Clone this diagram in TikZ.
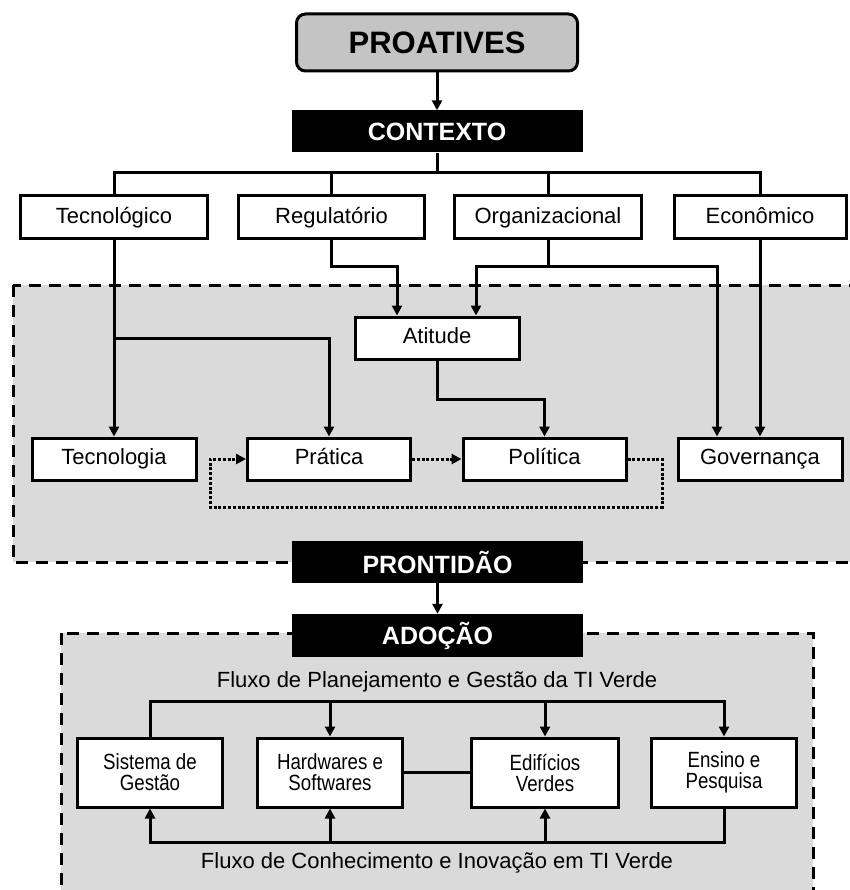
\documentclass[tikz,border=0pt]{standalone}
\usepackage{fontspec}
\setmainfont{Liberation Sans}
\newfontfamily\narrowfont{Liberation Sans}[FakeStretch=0.85]
\usetikzlibrary{arrows.meta,positioning}
\definecolor{zone}{HTML}{DADADA}
\definecolor{topgray}{HTML}{C4C4C4}

\begin{document}
\begin{tikzpicture}[x=1pt, y=-1pt,
  box/.style={draw, fill=white, line width=3pt, minimum height=43pt, inner sep=0pt, text height=16pt, text depth=4.5pt, font=\fontsize{22}{26}\selectfont},
  sbox/.style={draw, fill=white, line width=3pt, minimum width=145pt, minimum height=69pt, inner sep=0pt, align=center, font=\narrowfont\fontsize{22}{21}\selectfont},
  head/.style={fill=black, text=white, minimum width=291pt, minimum height=42pt, inner sep=0pt, font=\bfseries\fontsize{25}{28}\selectfont},
  zonebox/.style={fill=zone, draw, line width=3pt, dash pattern=on 12pt off 8pt},
  con/.style={line width=3pt},
  arr/.style={-{Triangle[length=10pt, width=10pt]}, line width=3pt},
  loop/.style={line width=3pt, dash pattern=on 3pt off 1.8pt}]
\useasboundingbox (0,0) rectangle (849,890);
\fill[white] (0,0) rectangle (849,890);
\draw[zonebox] (13,285) rectangle (870,562);
\draw[zonebox] (61,633) rectangle (813,930);
\node[draw, fill=topgray, rounded corners=9pt, line width=3pt, minimum width=281pt, minimum height=57pt, font=\bfseries\fontsize{31}{34}\selectfont] (proat) at (437,42.5) {PROATIVES};
\node[head] (ctx) at (437,131.5) {CONTEXTO};
\node[box, minimum width=187pt] (tecno) at (114,217.5) {Tecnológico};
\node[box, minimum width=186pt, right=28pt of tecno] (regul) {Regulatório};
\node[box, minimum width=187pt, right=27pt of regul] (org) {Organizacional};
\node[box, minimum width=172pt] (econ) at (760,217.5) {Econômico};
\node[box, minimum width=164pt, minimum height=42pt] (atit) at (437,338) {Atitude};
\node[box, minimum width=164pt, minimum height=42pt] (tecnol) at (114,459) {Tecnologia};
\node[box, minimum width=163pt, minimum height=42pt] (prat) at (329,459) {Prática};
\node[box, minimum width=163pt, minimum height=42pt] (polit) at (544.5,459) {Política};
\node[box, minimum width=164pt, minimum height=42pt] (gov) at (760,459) {Governança};
\node[head] (pront) at (437.5,562) {PRONTIDÃO};
\node[head, minimum height=43pt] (adoc) at (437.5,635.5) {ADOÇÃO};
\node[font=\fontsize{22}{26}\selectfont] (plan) at (437,682) {Fluxo de Planejamento e Gestão da TI Verde};
\node[sbox] (sist) at (150,772.5) {Sistema de\\Gestão};
\node[sbox] (hard) at (330,772.5) {Hardwares e\\Softwares};
\node[sbox, minimum width=147pt] (edif) at (545,772.5) {Edifícios\\Verdes};
\node[sbox] (ens) at (724,772.5) {Ensino e\\Pesquisa};
\node[font=\fontsize{22}{26}\selectfont] (conh) at (437,863) {Fluxo de Conhecimento e Inovação em TI Verde};
\coordinate (bar) at (437,173);
\coordinate (rg) at (397,267);
\coordinate (og) at (476,267);
\coordinate (og2) at (717,267);
\draw[arr] (proat) -- (ctx);
\draw[con] (ctx.south) -- (bar);
\draw[con] (tecno.north) |- (bar) -| (econ.north);
\draw[con] (regul.north) -- (regul.north |- bar);
\draw[con] (org.north) -- (org.north |- bar);
\draw[arr] (tecno.south) -- (tecnol.north);
\draw[arr] (tecno.south |- atit) -| (prat.north);
\draw[arr] (regul.south) |- (rg) -- (rg |- atit.north);
\draw[con] (org.south) -- (org.south |- og);
\draw[arr] (og2) -- (og) -- (og |- atit.north);
\draw[arr] (og) -- (og2) -- (og2 |- gov.north);
\draw[arr] (econ.south) -- (gov.north);
\draw[arr] (atit.south) |- (polit.north |- 0,399) -- (polit.north);
\draw[arr, loop] (prat) -- (polit);
\draw[arr, loop] (polit.east) -- (662,459) -- (662,507) -- (210,507) -- (210,459) -- (prat.west);
\draw[arr] (pront) -- (adoc);
\coordinate (fl) at (437,701);
\coordinate (kn) at (437,842);
\draw[con] (sist.north) |- (fl);
\draw[arr] (sist.north |- fl) -| (ens.north);
\draw[arr] (hard.north |- fl) -- (hard.north);
\draw[arr] (edif.north |- fl) -- (edif.north);
\draw[con] (hard) -- (edif);
\draw[arr] (ens.south) |- (kn) -| (sist.south);
\draw[arr] (hard.south |- kn) -- (hard.south);
\draw[arr] (edif.south |- kn) -- (edif.south);
\end{tikzpicture}
\end{document}
